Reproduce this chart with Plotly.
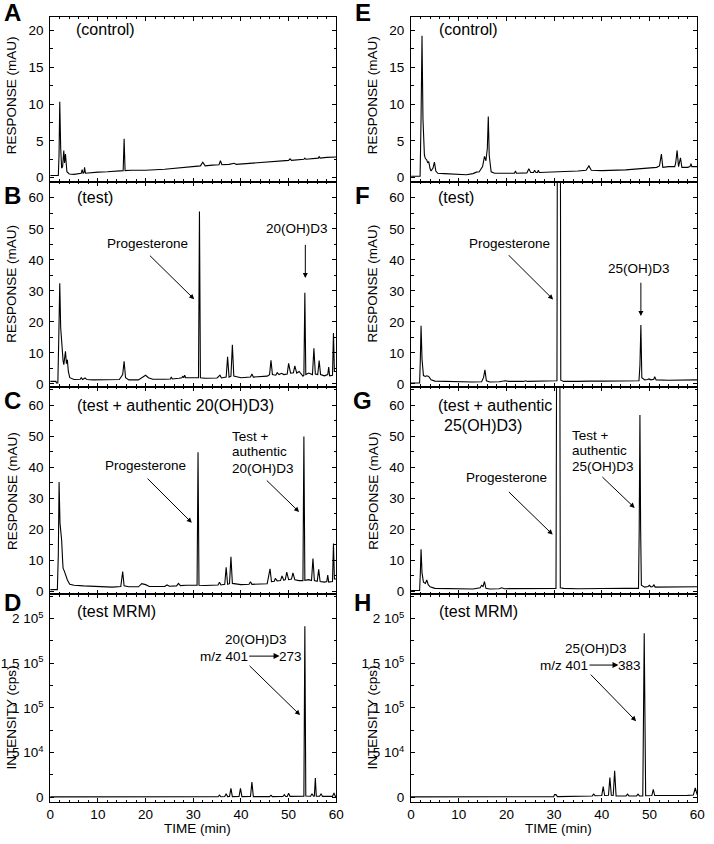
import plotly.graph_objects as go

FONT = "Arial, 'Liberation Sans', sans-serif"

# ---------------- data: (time [min], signal) ----------------
A_pts = [(0, 0.3), (1.7, 0.3), (1.85, 3.0), (2.0, 10.3), (2.2, 4.0), (2.4, 1.3), (2.6, 1.5), (2.85, 3.7),
         (3.0, 2.0), (3.2, 3.2), (3.5, 0.8), (4.0, 0.5), (5.0, 0.45), (6.0, 0.55), (6.5, 0.6), (6.7, 1.1),
         (6.9, 0.6), (7.1, 0.7), (7.2, 1.4), (7.4, 0.6), (8.0, 0.65), (9.0, 0.7), (10.0, 0.75), (12.0, 0.8),
         (14.0, 0.9), (15.3, 0.95), (15.5, 5.3), (15.7, 0.95), (17.0, 1.0), (20.0, 1.0), (24.0, 1.15),
         (27.0, 1.3), (28.5, 1.4), (29.0, 1.5), (30.0, 1.5), (31.5, 1.6), (32.0, 2.1), (32.5, 1.6),
         (34.0, 1.7), (35.4, 1.75), (35.7, 2.3), (36.0, 1.75), (37.5, 1.8), (38.6, 1.95), (39.0, 1.8),
         (40.0, 1.85), (43.0, 2.0), (46.0, 2.15), (50.0, 2.35), (50.3, 2.55), (50.6, 2.35), (53.2, 2.5),
         (53.4, 2.65), (53.6, 2.5), (56.2, 2.65), (56.4, 2.85), (56.6, 2.65), (58.0, 2.75), (60.0, 2.8)]

B_pts = [(0, 0.8), (1.2, 0.8), (1.3, 0.3), (1.6, 0.3), (1.8, 15), (2.0, 32.4), (2.2, 18), (2.5, 9.0),
         (2.7, 7.5), (2.85, 6.2), (3.0, 8.0), (3.2, 10.5), (3.4, 6.5), (3.6, 7.8), (3.8, 4.0), (4.1, 2.0),
         (5.0, 1.4), (6.3, 1.5), (6.5, 2.0), (6.8, 1.4), (7.3, 1.9), (7.7, 1.4), (9.0, 1.3), (12.0, 1.3),
         (14.5, 1.4), (15.2, 3.0), (15.5, 7.3), (15.8, 2.0), (16.5, 1.3), (18.5, 1.3), (19.5, 2.5),
         (20.0, 2.8), (20.6, 2.0), (21.5, 1.5), (24.0, 1.5), (25.2, 1.6), (25.4, 2.2), (25.6, 1.6),
         (27.0, 1.8), (27.6, 2.0), (27.8, 2.4), (28.0, 2.0), (28.2, 2.8), (28.4, 2.0), (29.5, 2.0),
         (30.5, 2.0), (31.1, 2.0), (31.3, 55.6), (31.5, 2.0), (32.5, 1.8), (35.0, 1.9), (35.6, 2.8),
         (35.9, 1.9), (36.9, 2.2), (37.2, 8.7), (37.5, 2.2), (37.9, 2.5), (38.2, 12.6), (38.5, 2.5),
         (40.0, 2.0), (42.0, 2.2), (42.3, 3.2), (42.6, 2.2), (45.5, 2.5), (46.0, 3.0), (46.3, 7.6),
         (46.6, 3.0), (47.3, 2.8), (47.6, 3.6), (48.0, 3.0), (48.5, 3.4), (49.0, 3.0), (49.7, 3.2),
         (50.0, 6.6), (50.4, 3.5), (51.0, 3.6), (51.3, 5.8), (51.7, 3.5), (52.2, 4.0), (53.0, 2.5),
         (53.2, 2.8), (53.4, 29.4), (53.6, 3.0), (54.2, 3.5), (55.0, 3.0), (55.3, 11.5), (55.6, 3.2),
         (56.1, 3.0), (56.4, 7.5), (56.7, 3.0), (57.5, 2.6), (58.2, 3.0), (58.4, 5.4), (58.6, 2.6),
         (59.2, 2.8), (59.4, 16.4), (59.6, 4.0), (60.0, 4.0)]

C_pts = [(0, 0.6), (1.5, 0.6), (1.7, 12), (1.86, 35.2), (2.05, 22), (2.4, 16.5), (2.6, 10), (2.7, 7.5),
         (3.0, 6.4), (3.3, 5.0), (3.6, 3.7), (4.1, 2.3), (5.0, 2.0), (7.0, 1.8), (10.0, 1.6), (13.0, 1.4),
         (14.8, 1.6), (15.2, 6.4), (15.5, 1.8), (16.5, 1.5), (18.5, 1.5), (19.2, 2.5), (20.0, 2.2),
         (20.8, 1.6), (24.0, 1.6), (24.5, 2.1), (25.0, 1.7), (26.5, 1.8), (26.9, 2.6), (27.3, 1.9),
         (28.5, 2.0), (30.8, 2.0), (31.0, 44.8), (31.2, 2.0), (32.5, 1.9), (35.2, 2.1), (35.5, 3.0),
         (35.8, 2.1), (36.6, 2.3), (36.9, 7.8), (37.2, 2.3), (37.6, 2.5), (37.9, 11.2), (38.2, 2.6),
         (40.0, 2.2), (41.7, 2.3), (42.0, 3.1), (42.3, 2.3), (45.5, 2.5), (46.1, 7.3), (46.4, 3.2),
         (47.0, 3.3), (47.2, 4.2), (47.6, 3.4), (48.3, 3.5), (48.6, 5.0), (49.0, 3.6), (49.3, 3.8),
         (49.6, 6.2), (50.0, 3.8), (50.6, 4.0), (50.9, 6.0), (51.3, 3.8), (52.2, 3.5), (53.0, 3.5),
         (53.2, 49.9), (53.4, 3.6), (54.2, 3.8), (54.8, 3.5), (55.1, 10.6), (55.4, 3.5), (56.0, 3.3),
         (56.3, 7.1), (56.6, 3.2), (57.5, 3.0), (58.0, 3.2), (58.2, 5.3), (58.4, 3.0), (59.2, 3.2),
         (59.4, 15.4), (59.6, 4.0), (60.0, 4.0)]

D_pts = [(0, 500), (10, 500), (20, 500), (30, 500), (35.2, 600), (35.5, 2500), (35.8, 600), (36.6, 800),
         (36.9, 4000), (37.2, 800), (37.6, 900), (37.9, 10000), (38.2, 800), (39.6, 900), (39.9, 10000),
         (40.2, 800), (42.0, 900), (42.3, 17000), (42.6, 800), (46.0, 800), (46.3, 2200), (46.6, 800),
         (48.8, 900), (49.1, 3000), (49.4, 900), (49.7, 1000), (50.0, 4500), (50.3, 1000), (53.0, 1000),
         (53.2, 1200), (53.4, 191500), (53.6, 1500), (54.6, 1200), (54.9, 4000), (55.2, 1200),
         (55.4, 1500), (55.6, 21500), (55.8, 1300), (56.5, 1200), (56.8, 4000), (57.1, 1000),
         (59.2, 1000), (59.5, 5000), (59.8, 1000), (60, 1000)]

E_pts = [(0, 0.2), (1.9, 0.2), (2.1, 8.0), (2.3, 19.3), (2.5, 8.0), (2.8, 3.1), (3.0, 2.6), (3.3, 2.4),
         (3.5, 2.0), (3.7, 2.2), (4.0, 1.2), (4.2, 0.9), (4.6, 1.3), (4.9, 2.1), (5.2, 0.9), (5.6, 0.6),
         (7.0, 0.55), (9.0, 0.5), (11.6, 0.4), (13.0, 0.55), (13.7, 0.75), (14.3, 0.8), (15.0, 1.5),
         (15.4, 2.9), (15.7, 2.3), (16.0, 4.0), (16.2, 8.3), (16.4, 3.0), (16.8, 0.8), (17.5, 0.6),
         (20.0, 0.55), (21.7, 0.6), (21.9, 0.9), (22.1, 0.6), (24.3, 0.65), (24.7, 1.2), (25.1, 0.7),
         (25.7, 0.7), (25.9, 1.0), (26.2, 0.7), (26.5, 0.7), (26.7, 1.0), (26.9, 0.7), (30.0, 0.75),
         (31.0, 0.85), (35.0, 0.9), (36.7, 1.0), (37.3, 1.6), (37.8, 1.0), (40.0, 0.95), (45.0, 1.05),
         (50.0, 1.25), (51.5, 1.4), (52.1, 1.6), (52.5, 3.2), (52.8, 1.4), (54.0, 1.5), (55.3, 1.5),
         (55.5, 2.0), (55.8, 3.7), (56.1, 1.5), (56.5, 2.7), (56.8, 1.4), (58.0, 1.4), (58.5, 1.5),
         (58.7, 1.9), (58.9, 1.5), (60.0, 1.5)]

F_pts = [(0, 0.3), (1.8, 0.3), (1.95, 8), (2.1, 18.7), (2.3, 8), (2.6, 2.7), (3.0, 2.4), (3.3, 2.6),
         (3.7, 2.4), (4.2, 1.3), (5.0, 0.9), (7.0, 0.8), (10.0, 0.6), (13.0, 0.6), (14.8, 0.7),
         (15.2, 2.0), (15.5, 4.5), (15.8, 1.0), (16.5, 0.6), (18.5, 0.7), (19.7, 1.0), (20.5, 0.8),
         (23.6, 0.8), (24.0, 1.0), (24.4, 0.8), (28.0, 0.9), (30.0, 0.95), (30.6, 1.0), (30.75, 150),
         (31.25, 150), (31.4, 1.2), (32.0, 0.8), (35.0, 0.8), (36.8, 0.9), (37.1, 1.1), (37.4, 0.9),
         (40.0, 0.9), (45.0, 1.0), (47.8, 1.0), (48.0, 6), (48.2, 19.0), (48.4, 2.0), (49.0, 1.3),
         (49.6, 1.4), (49.9, 1.6), (50.3, 1.3), (50.9, 1.5), (51.1, 2.3), (51.4, 1.3), (54.0, 1.2),
         (57.0, 1.3), (60.0, 1.3)]

G_pts = [(0, 0.3), (1.8, 0.3), (1.95, 6), (2.1, 13.6), (2.3, 6), (2.6, 3.0), (3.0, 2.6), (3.3, 3.7),
         (3.6, 2.2), (4.0, 1.5), (5.0, 1.0), (7.0, 0.9), (10.0, 0.8), (13.0, 0.8), (14.5, 1.2),
         (14.8, 2.0), (15.1, 1.6), (15.4, 3.2), (15.7, 1.0), (16.5, 0.8), (18.5, 0.9), (19.0, 1.2),
         (19.6, 0.9), (24.0, 0.9), (28.0, 1.0), (30.4, 1.0), (30.6, 120), (31.15, 120), (31.3, 1.2),
         (32.0, 1.0), (35.0, 0.9), (37.0, 1.0), (40.0, 0.95), (45.0, 1.0), (47.7, 1.0), (47.85, 20),
         (48.0, 56.8), (48.15, 20), (48.3, 2.0), (49.0, 1.4), (49.7, 1.6), (50.0, 2.0), (50.3, 1.5),
         (50.7, 1.6), (50.9, 2.2), (51.2, 1.4), (54.0, 1.4), (57.0, 1.5), (60.0, 1.5)]

H_pts = [(0, 500), (10, 500), (20, 500), (29.9, 600), (30.1, 3000), (30.4, 3000), (30.7, 800),
         (35.0, 900), (38.0, 1500), (38.3, 3500), (38.6, 1800), (40.0, 2000), (40.3, 12000),
         (40.6, 2000), (41.4, 2200), (41.7, 22000), (42.0, 2200), (42.4, 2000), (42.7, 29600),
         (43.0, 1500), (45.1, 1500), (45.4, 3500), (45.7, 1500), (47.3, 1500), (47.6, 3500),
         (47.9, 1500), (48.6, 1600), (48.9, 183700), (49.2, 1800), (50.5, 2000), (50.8, 9000),
         (51.1, 2000), (55.0, 1800), (58.0, 2200), (59.2, 2500), (59.6, 10400), (60.0, 3000)]

panel_letters = ["A", "B", "C", "D", "E", "F", "G", "H"]
panel_data = [A_pts, B_pts, C_pts, D_pts, E_pts, F_pts, G_pts, H_pts]
x_ticks = [0, 10, 20, 30, 40, 50, 60]
resp_small_ticks = [0, 5, 10, 15, 20]
resp_big_ticks = [0, 10, 20, 30, 40, 50, 60]
mrm_ticks = [0, 50000, 100000, 150000, 200000]
mrm_ticktext = ["0", "5 10<sup>4</sup>", "1 10<sup>5</sup>", "1.5 10<sup>5</sup>", "2 10<sup>5</sup>"]

# ---------------- layout geometry ----------------
W, H = 714, 844
col_px = [(47, 338), (414, 705)]
row_px = [(17, 183), (183, 389), (389, 598), (598, 807)]
row_ranges = [[-0.58, 21.85], [-0.9, 65.1], [-0.96, 65.9], [-5500, 227000]]

def px_x(p):
    return p / W

def px_y(p):
    return 1 - p / H

fig = go.Figure()
layout = dict(width=W, height=H, margin=dict(l=0, r=0, t=0, b=0),
              plot_bgcolor="white", paper_bgcolor="white", showlegend=False,
              font=dict(family=FONT, color="black"))

for i, pts in enumerate(panel_data):
    col, row = divmod(i, 4)
    n = i + 1
    xa = "x" if n == 1 else f"x{n}"
    ya = "y" if n == 1 else f"y{n}"
    fig.add_trace(go.Scatter(x=[p[0] for p in pts], y=[p[1] for p in pts], mode="lines",
                             line=dict(color="black", width=1.1), xaxis=xa, yaxis=ya,
                             hoverinfo="skip"))
    common = dict(showline=True, linecolor="black", linewidth=1, mirror="ticks",
                  ticks="inside", tickcolor="black", ticklen=4, tickwidth=1,
                  showgrid=False, zeroline=False,
                  tickfont=dict(family=FONT, size=13.5, color="black"))
    xax = dict(common, domain=[px_x(col_px[col][0]), px_x(col_px[col][1])],
               range=[0, 60], tickmode="array", tickvals=x_ticks,
               showticklabels=(row == 3), anchor=ya,
               minor=dict(dtick=2, ticks="inside", ticklen=2.5, tickcolor="black"))
    yax = dict(common, domain=[px_y(row_px[row][1]), px_y(row_px[row][0])],
               range=row_ranges[row], anchor=xa, ticklabelstandoff=3)
    if row == 0:
        yax.update(tickmode="array", tickvals=resp_small_ticks,
                   minor=dict(dtick=2.5, ticks="inside", ticklen=2.5, tickcolor="black"))
    elif row in (1, 2):
        yax.update(tickmode="array", tickvals=resp_big_ticks,
                   minor=dict(dtick=5, ticks="inside", ticklen=2.5, tickcolor="black"))
    else:
        yax.update(tickmode="array", tickvals=mrm_ticks, ticktext=mrm_ticktext,
                   minor=dict(dtick=25000, ticks="inside", ticklen=2.5, tickcolor="black"))
    layout["xaxis" if n == 1 else f"xaxis{n}"] = xax
    layout["yaxis" if n == 1 else f"yaxis{n}"] = yax

annotations = []

def refs(i):
    n = i + 1
    return ("x" if n == 1 else f"x{n}"), ("y" if n == 1 else f"y{n}")

def txt(i, x, y, s, xanchor="center", size=13.5):
    xr, yr = refs(i)
    annotations.append(dict(x=x, y=y, xref=xr, yref=yr, text=s, showarrow=False,
                            xanchor=xanchor, yanchor="middle",
                            font=dict(family=FONT, size=size, color="black")))

def arrow(i, xh, yh, xt, yt, size=1.0):
    xr, yr = refs(i)
    annotations.append(dict(x=xh, y=yh, xref=xr, yref=yr, ax=xt, ay=yt, axref=xr, ayref=yr,
                            text="", showarrow=True, arrowhead=2, arrowsize=size,
                            arrowwidth=1, arrowcolor="black"))

# condition labels
txt(0, 5.0, 20.1, "(control)", "left", 16)
txt(4, 5.4, 20.1, "(control)", "left", 16)
txt(1, 5.2, 60.0, "(test)", "left", 16)
txt(5, 5.2, 60.0, "(test)", "left", 16)
txt(2, 5.2, 60.0, "(test + authentic 20(OH)D3)", "left", 16)
txt(6, 5.3, 59.7, "(test + authentic", "left", 16)
txt(6, 6.4, 53.5, "25(OH)D3)", "left", 16)
txt(3, 5.2, 208000, "(test MRM)", "left", 16)
txt(7, 5.5, 208000, "(test MRM)", "left", 16)

# B
txt(1, 20.4, 45.3, "Progesterone")
arrow(1, 30.2, 27.3, 20.6, 41.8)
txt(1, 51.8, 50.0, "20(OH)D3")
arrow(1, 53.5, 34.1, 53.5, 45.3)
# C
txt(2, 19.9, 40.7, "Progesterone")
arrow(2, 29.7, 22.1, 20.1, 36.8)
txt(2, 37.6, 49.8, "Test +", "left")
txt(2, 37.6, 45.0, "authentic", "left")
txt(2, 37.6, 39.6, "20(OH)D3", "left")
arrow(2, 52.2, 25.6, 45.1, 36.2)
# D
txt(3, 43.2, 176500, "20(OH)D3")
txt(3, 41.8, 158000, "m/z 401", "right")
arrow(3, 48.1, 158000, 41.4, 158000, 1.2)
txt(3, 47.5, 158000, "273", "left")
arrow(3, 52.4, 92000, 41.5, 148700)
# F
txt(5, 20.6, 45.1, "Progesterone")
arrow(5, 29.8, 27.2, 20.2, 41.9)
txt(5, 47.7, 37.1, "25(OH)D3")
arrow(5, 48.2, 21.9, 48.2, 33.1)
# G
txt(6, 20.1, 36.8, "Progesterone")
arrow(6, 29.7, 18.3, 20.2, 32.5)
txt(6, 33.4, 50.3, "Test +", "left")
txt(6, 33.4, 45.3, "authentic", "left")
txt(6, 33.4, 40.3, "25(OH)D3", "left")
arrow(6, 46.9, 26.9, 39.8, 37.3)
# H
txt(7, 38.8, 166700, "25(OH)D3")
txt(7, 37.5, 148000, "m/z 401", "right")
arrow(7, 43.5, 148000, 37.1, 148000, 1.2)
txt(7, 42.9, 148000, "383", "left")
arrow(7, 47.2, 85200, 37.4, 138900)

# panel letters
letter_pos = [(9, 12.5), (9, 197), (9, 403), (9, 606),
              (365, 12.5), (365, 197), (365, 403), (365, 606)]
for s, (lx, ly) in zip(panel_letters, letter_pos):
    annotations.append(dict(x=px_x(lx), y=px_y(ly), xref="paper", yref="paper",
                            text=f"<b>{s}</b>", showarrow=False, xanchor="center", yanchor="middle",
                            font=dict(family=FONT, size=24, color="black")))

# axis titles
ytitle_rows = [96, 285.5, 494, 722]
for cx in (8, 375):
    for r, cy in enumerate(ytitle_rows):
        annotations.append(dict(x=px_x(cx), y=px_y(cy), xref="paper", yref="paper",
                                text="INTENSITY (cps)" if r == 3 else "RESPONSE (mAU)",
                                textangle=-90, showarrow=False, xanchor="center", yanchor="middle",
                                font=dict(family=FONT, size=13.5, color="black")))
for cx in (196.5, 564):
    annotations.append(dict(x=px_x(cx), y=px_y(833), xref="paper", yref="paper",
                            text="TIME (min)", showarrow=False, xanchor="center", yanchor="middle",
                            font=dict(family=FONT, size=13.5, color="black")))

layout["annotations"] = annotations
fig.update_layout(**layout)
fig.write_html("out.html", config={"displayModeBar": False},
               post_script="document.body.style.margin='0';document.body.style.padding='0';")
